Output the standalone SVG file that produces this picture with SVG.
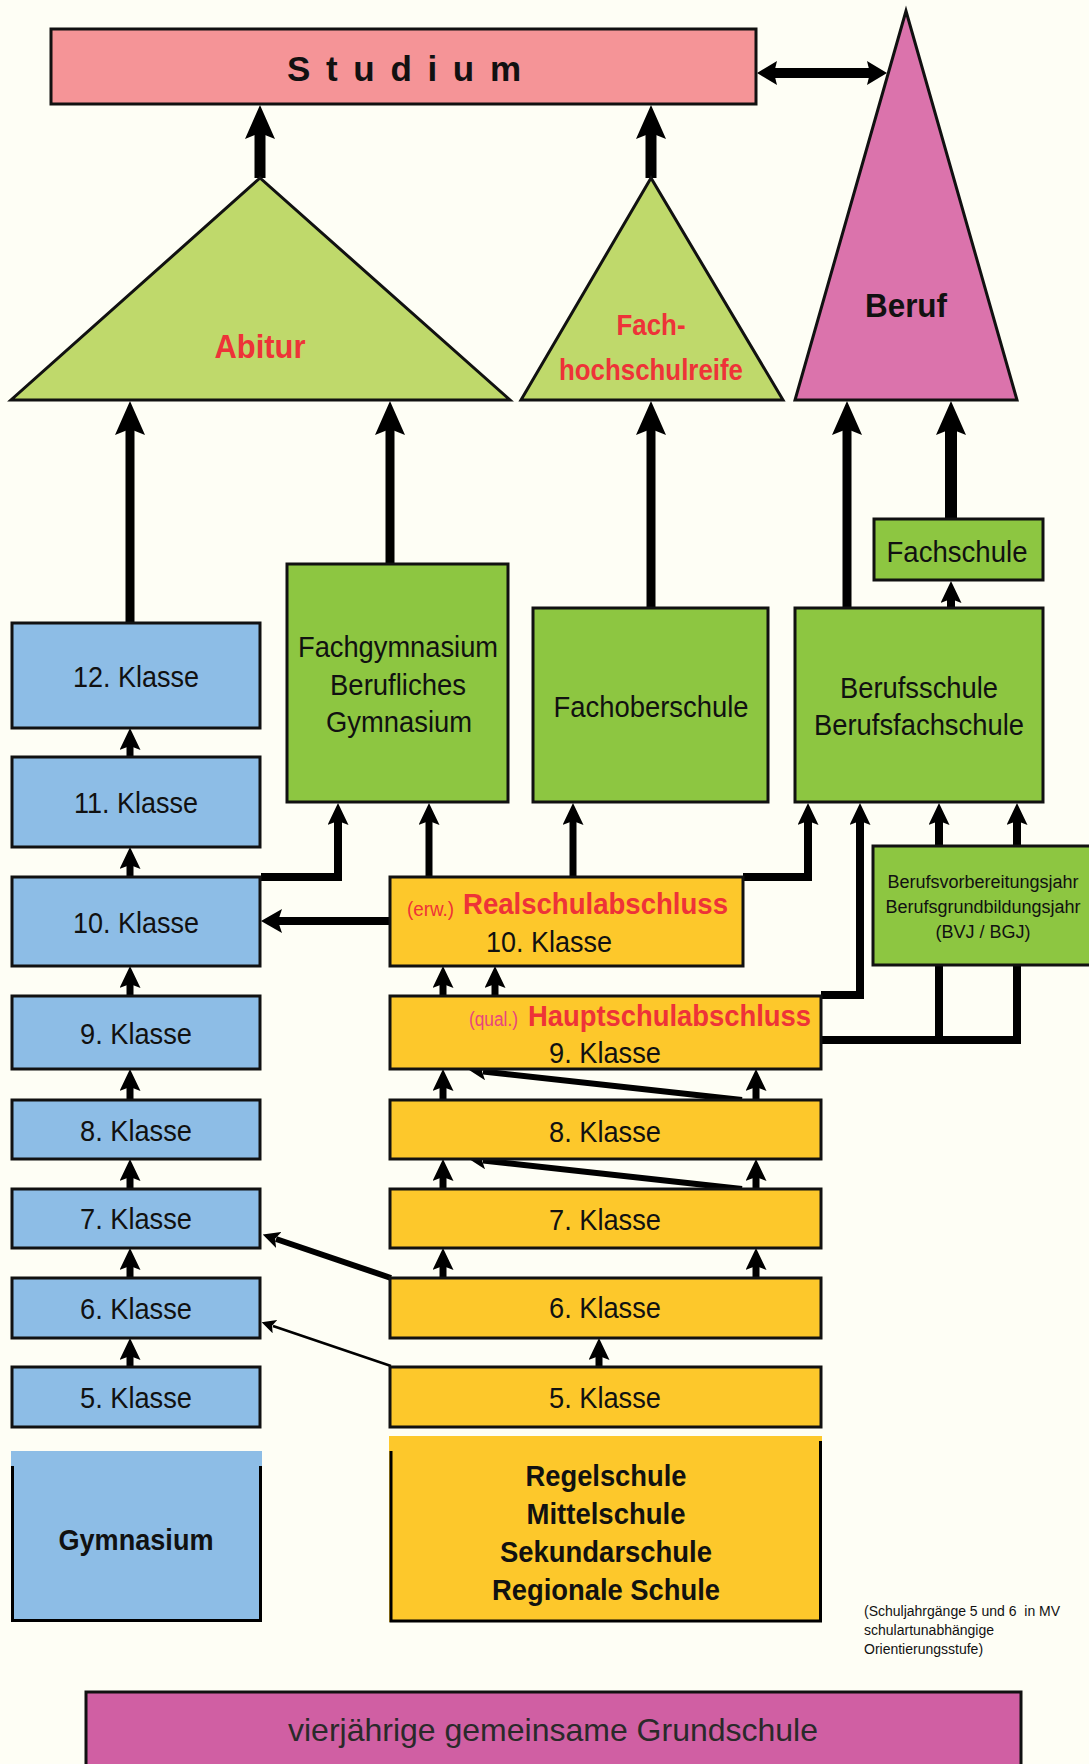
<svg xmlns="http://www.w3.org/2000/svg" width="1089" height="1764" viewBox="0 0 1089 1764">
<style>
.bx{stroke:#111;stroke-width:3}
.blue{fill:#8DBDE6}.yel{fill:#FDC82B}.grn{fill:#8DC641}.lgrn{fill:#BFD96B}
.t{font-family:"Liberation Sans",Arial,sans-serif;font-size:30px;fill:#111;text-anchor:middle}
.b{font-weight:bold}
.red{fill:#EE3338}
.ln{fill:none;stroke:#000;stroke-linejoin:miter}
</style>
<defs>
<marker id="as" viewBox="0 0 22 21" refX="4" refY="10.5" markerWidth="22" markerHeight="21" markerUnits="userSpaceOnUse" orient="auto"><path d="M0,0 L22,10.5 L0,21 L4,10.5 Z" fill="#000"/></marker>
<marker id="al" viewBox="0 0 34 30" refX="6" refY="15" markerWidth="34" markerHeight="30" markerUnits="userSpaceOnUse" orient="auto"><path d="M0,0 L34,15 L0,30 L6,15 Z" fill="#000"/></marker>
<marker id="ah" viewBox="0 0 21 24" refX="4" refY="12" markerWidth="21" markerHeight="24" markerUnits="userSpaceOnUse" orient="auto"><path d="M0,0 L21,12 L0,24 L4,12 Z" fill="#000"/></marker>
<marker id="ad" viewBox="0 0 20 24" refX="3" refY="12" markerWidth="20" markerHeight="24" markerUnits="userSpaceOnUse" orient="auto-start-reverse"><path d="M0,0 L20,12 L0,24 L3,12 Z" fill="#000"/></marker>
<marker id="ag" viewBox="0 0 17 17" refX="3" refY="8.5" markerWidth="17" markerHeight="17" markerUnits="userSpaceOnUse" orient="auto"><path d="M0,0 L17,8.5 L0,17 L4,8.5 Z" fill="#000"/></marker>
<marker id="at" viewBox="0 0 14 14" refX="2" refY="7" markerWidth="14" markerHeight="14" markerUnits="userSpaceOnUse" orient="auto"><path d="M0,0 L14,7 L0,14 L3,7 Z" fill="#000"/></marker>
</defs>
<rect x="0" y="0" width="1089" height="1764" fill="#FEFEF5"/>

<g id="connectors">
<path class="ln" d="M774,73 H870" stroke-width="10" marker-start="url(#ad)" marker-end="url(#ad)"/>
<path class="ln" d="M260,178 V133" stroke-width="11" marker-end="url(#al)"/>
<path class="ln" d="M651,178 V133" stroke-width="11" marker-end="url(#al)"/>
<path class="ln" d="M130,623 V429" stroke-width="9" marker-end="url(#al)"/>
<path class="ln" d="M390,564 V429" stroke-width="9" marker-end="url(#al)"/>
<path class="ln" d="M651,608 V429" stroke-width="9" marker-end="url(#al)"/>
<path class="ln" d="M847,608 V429" stroke-width="9" marker-end="url(#al)"/>
<path class="ln" d="M951,519 V429" stroke-width="12" marker-end="url(#al)"/>
<path class="ln" d="M951,608 V599" stroke-width="8" marker-end="url(#as)"/>
<path class="ln" d="M130,757 V746" stroke-width="7" marker-end="url(#as)"/>
<path class="ln" d="M130,877 V865" stroke-width="7" marker-end="url(#as)"/>
<path class="ln" d="M130,996 V984" stroke-width="7" marker-end="url(#as)"/>
<path class="ln" d="M130,1100 V1087" stroke-width="7" marker-end="url(#as)"/>
<path class="ln" d="M130,1189 V1177" stroke-width="7" marker-end="url(#as)"/>
<path class="ln" d="M130,1278 V1266" stroke-width="7" marker-end="url(#as)"/>
<path class="ln" d="M130,1367 V1356" stroke-width="7" marker-end="url(#as)"/>
<path class="ln" d="M443,996 V984" stroke-width="7" marker-end="url(#as)"/>
<path class="ln" d="M495,996 V984" stroke-width="7" marker-end="url(#as)"/>
<path class="ln" d="M443,1100 V1087" stroke-width="7" marker-end="url(#as)"/>
<path class="ln" d="M756,1100 V1087" stroke-width="7" marker-end="url(#as)"/>
<path class="ln" d="M443,1189 V1177" stroke-width="7" marker-end="url(#as)"/>
<path class="ln" d="M756,1189 V1177" stroke-width="7" marker-end="url(#as)"/>
<path class="ln" d="M443,1278 V1266" stroke-width="7" marker-end="url(#as)"/>
<path class="ln" d="M756,1278 V1266" stroke-width="7" marker-end="url(#as)"/>
<path class="ln" d="M599,1367 V1356" stroke-width="7" marker-end="url(#as)"/>
<path class="ln" d="M261,877 H338 V821" stroke-width="8" marker-end="url(#as)"/>
<path class="ln" d="M429,877 V821" stroke-width="7" marker-end="url(#as)"/>
<path class="ln" d="M573,877 V821" stroke-width="7" marker-end="url(#as)"/>
<path class="ln" d="M743,877 H808 V821" stroke-width="8" marker-end="url(#as)"/>
<path class="ln" d="M821,995 H860 V821" stroke-width="8" marker-end="url(#as)"/>
<path class="ln" d="M939,846 V821" stroke-width="8" marker-end="url(#as)"/>
<path class="ln" d="M1017,846 V821" stroke-width="8" marker-end="url(#as)"/>
<path class="ln" d="M821,1040 H1017 V965 M939,1040 V965" stroke-width="8"/>
<path class="ln" d="M390,921 H278" stroke-width="8" marker-end="url(#ah)"/>
<path class="ln" d="M742,1100 L483,1071.5" stroke-width="6" marker-end="url(#ag)"/>
<path class="ln" d="M742,1189 L483,1160.5" stroke-width="6" marker-end="url(#ag)"/>
<path class="ln" d="M391,1278 L276,1239" stroke-width="6" marker-end="url(#ag)"/>
<path class="ln" d="M391,1366 L273,1326" stroke-width="2.5" marker-end="url(#at)"/>
</g>

<g id="studium"><rect class="bx" x="51" y="29" width="705" height="75" fill="#F59497"/>
<text class="t b" x="287" y="81" style="font-size:35px;text-anchor:start" textLength="234" lengthAdjust="spacing">S t u d i u m</text></g>

<g id="abitur"><polygon class="bx lgrn" points="260,178 11,400 510,400"/>
<text class="t b red" x="260" y="358" style="font-size:34px" textLength="91" lengthAdjust="spacingAndGlyphs">Abitur</text></g>
<g id="fachhochschulreife"><polygon class="bx lgrn" points="651,178 521,400 783,400"/>
<text class="t b red" x="651" y="335" style="font-size:29px" textLength="69" lengthAdjust="spacingAndGlyphs">Fach-</text>
<text class="t b red" x="651" y="380" style="font-size:29px" textLength="184" lengthAdjust="spacingAndGlyphs">hochschulreife</text></g>
<g id="beruf"><polygon class="bx" points="906,11 795,400 1017,400" fill="#DB73AC"/>
<text class="t b" x="906" y="317" style="font-size:34px" textLength="82" lengthAdjust="spacingAndGlyphs">Beruf</text></g>

<g id="fachschule"><rect class="bx grn" x="874" y="519" width="169" height="61"/><text class="t" x="957" y="562" textLength="141" lengthAdjust="spacingAndGlyphs">Fachschule</text></g>
<g id="fachgymnasium"><rect class="bx grn" x="287" y="564" width="221" height="238"/>
<text class="t" x="398" y="657" textLength="200" lengthAdjust="spacingAndGlyphs">Fachgymnasium</text><text class="t" x="398" y="695" textLength="136" lengthAdjust="spacingAndGlyphs">Berufliches</text><text class="t" x="399" y="732" textLength="146" lengthAdjust="spacingAndGlyphs">Gymnasium</text></g>
<g id="fachoberschule"><rect class="bx grn" x="533" y="608" width="235" height="194"/><text class="t" x="651" y="717" textLength="195" lengthAdjust="spacingAndGlyphs">Fachoberschule</text></g>
<g id="berufsschule"><rect class="bx grn" x="795" y="608" width="248" height="194"/>
<text class="t" x="919" y="698" textLength="158" lengthAdjust="spacingAndGlyphs">Berufsschule</text><text class="t" x="919" y="735" textLength="210" lengthAdjust="spacingAndGlyphs">Berufsfachschule</text></g>
<g id="bvj"><rect class="bx grn" x="873" y="846" width="218" height="119"/>
<text class="t" x="983" y="888" style="font-size:18px">Berufsvorbereitungsjahr</text>
<text class="t" x="983" y="913" style="font-size:18px">Berufsgrundbildungsjahr</text>
<text class="t" x="983" y="938" style="font-size:18px">(BVJ / BGJ)</text></g>

<g id="g12"><rect class="bx blue" x="12" y="623" width="248" height="105"/><text class="t" x="136" y="687" textLength="126" lengthAdjust="spacingAndGlyphs">12. Klasse</text></g>
<g id="g11"><rect class="bx blue" x="12" y="757" width="248" height="90"/><text class="t" x="136" y="813" textLength="124" lengthAdjust="spacingAndGlyphs">11. Klasse</text></g>
<g id="g10"><rect class="bx blue" x="12" y="877" width="248" height="89"/><text class="t" x="136" y="933" textLength="126" lengthAdjust="spacingAndGlyphs">10. Klasse</text></g>
<g id="g9"><rect class="bx blue" x="12" y="996" width="248" height="73"/><text class="t" x="136" y="1044" textLength="112" lengthAdjust="spacingAndGlyphs">9. Klasse</text></g>
<g id="g8"><rect class="bx blue" x="12" y="1100" width="248" height="59"/><text class="t" x="136" y="1141" textLength="112" lengthAdjust="spacingAndGlyphs">8. Klasse</text></g>
<g id="g7"><rect class="bx blue" x="12" y="1189" width="248" height="59"/><text class="t" x="136" y="1229" textLength="112" lengthAdjust="spacingAndGlyphs">7. Klasse</text></g>
<g id="g6"><rect class="bx blue" x="12" y="1278" width="248" height="60"/><text class="t" x="136" y="1319" textLength="112" lengthAdjust="spacingAndGlyphs">6. Klasse</text></g>
<g id="g5"><rect class="bx blue" x="12" y="1367" width="248" height="60"/><text class="t" x="136" y="1408" textLength="112" lengthAdjust="spacingAndGlyphs">5. Klasse</text></g>
<g id="gymnasium"><rect class="blue" x="11" y="1451" width="251" height="171"/><path class="ln" d="M12.5,1466 V1620.5 H260.5 V1466" stroke="#111" stroke-width="3"/>
<text class="t b" x="136" y="1550" textLength="155" lengthAdjust="spacingAndGlyphs">Gymnasium</text></g>

<g id="r10"><rect class="bx yel" x="390" y="877" width="353" height="89"/>
<text class="t red" x="407" y="916" style="font-size:20px;text-anchor:start" textLength="47" lengthAdjust="spacingAndGlyphs">(erw.)</text>
<text class="t b red" x="463" y="914" style="text-anchor:start" textLength="265" lengthAdjust="spacingAndGlyphs">Realschulabschluss</text>
<text class="t" x="549" y="952" textLength="126" lengthAdjust="spacingAndGlyphs">10. Klasse</text></g>
<g id="r9"><rect class="bx yel" x="390" y="996" width="431" height="73"/>
<text class="t" x="469" y="1026" style="font-size:20px;text-anchor:start;fill:#E8457F" textLength="49" lengthAdjust="spacingAndGlyphs">(qual.)</text>
<text class="t b red" x="528" y="1026" style="text-anchor:start" textLength="283" lengthAdjust="spacingAndGlyphs">Hauptschulabschluss</text>
<text class="t" x="605" y="1063" textLength="112" lengthAdjust="spacingAndGlyphs">9. Klasse</text></g>
<g id="r8"><rect class="bx yel" x="390" y="1100" width="431" height="59"/><text class="t" x="605" y="1142" textLength="112" lengthAdjust="spacingAndGlyphs">8. Klasse</text></g>
<g id="r7"><rect class="bx yel" x="390" y="1189" width="431" height="59"/><text class="t" x="605" y="1230" textLength="112" lengthAdjust="spacingAndGlyphs">7. Klasse</text></g>
<g id="r6"><rect class="bx yel" x="390" y="1278" width="431" height="60"/><text class="t" x="605" y="1318" textLength="112" lengthAdjust="spacingAndGlyphs">6. Klasse</text></g>
<g id="r5"><rect class="bx yel" x="390" y="1367" width="431" height="60"/><text class="t" x="605" y="1408" textLength="112" lengthAdjust="spacingAndGlyphs">5. Klasse</text></g>
<g id="regelschule"><rect class="yel" x="389" y="1436" width="433" height="186"/><path class="ln" d="M391,1451 V1621 H820.5 V1441" stroke="#111" stroke-width="3"/>
<text class="t b" x="606" y="1486" textLength="161" lengthAdjust="spacingAndGlyphs">Regelschule</text>
<text class="t b" x="606" y="1524" textLength="159" lengthAdjust="spacingAndGlyphs">Mittelschule</text>
<text class="t b" x="606" y="1562" textLength="212" lengthAdjust="spacingAndGlyphs">Sekundarschule</text>
<text class="t b" x="606" y="1600" textLength="228" lengthAdjust="spacingAndGlyphs">Regionale Schule</text></g>

<g id="note"><text class="t" xml:space="preserve" x="864" y="1616" style="font-size:14px;text-anchor:start">(Schuljahrgänge 5 und 6  in MV</text>
<text class="t" x="864" y="1635" style="font-size:14px;text-anchor:start">schulartunabhängige</text>
<text class="t" x="864" y="1654" style="font-size:14px;text-anchor:start">Orientierungsstufe)</text></g>

<g id="grundschule"><rect class="bx" x="86" y="1692" width="935" height="90" fill="#D05FA3" stroke="#333"/>
<text class="t" x="553" y="1741" style="font-size:32px;fill:#2a2a2a">vierjährige gemeinsame Grundschule</text></g>
</svg>
